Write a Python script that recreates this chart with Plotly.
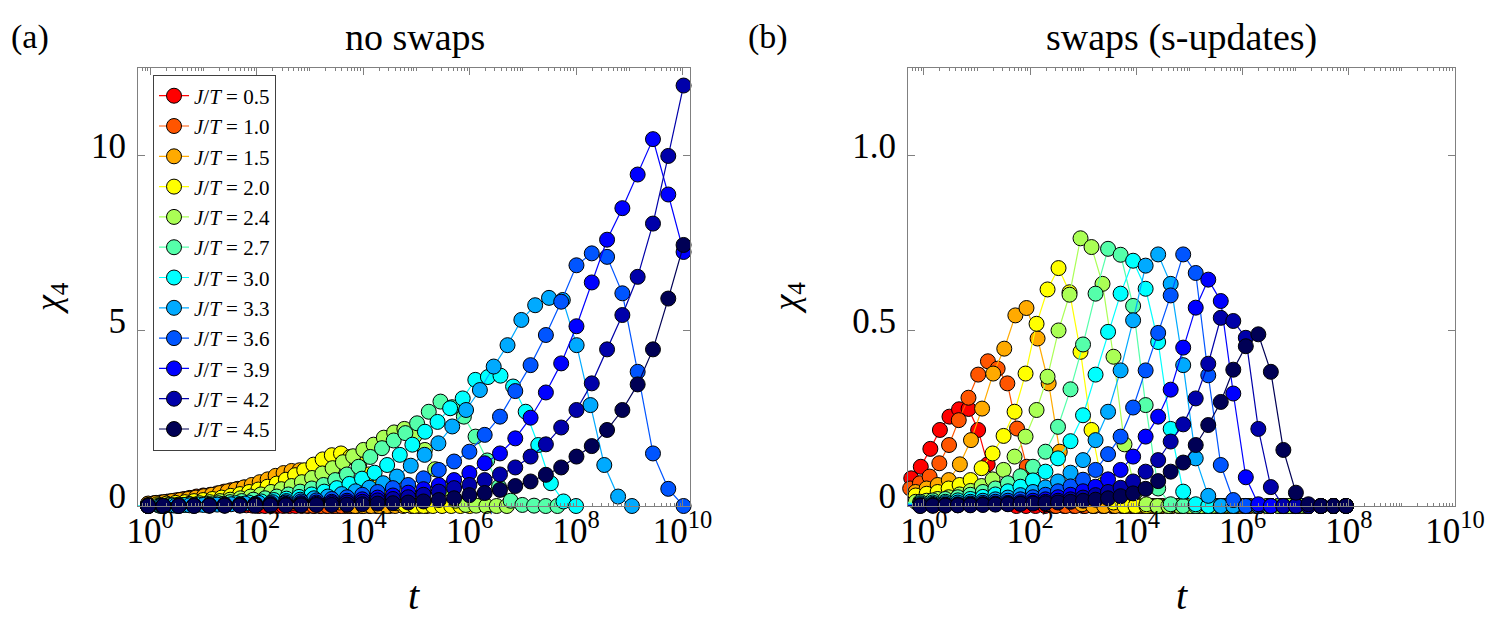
import numpy as np
import plotly.graph_objects as go

# J/T values and jet-like colours
jt_labels = ["0.5", "1.0", "1.5", "2.0", "2.4", "2.7", "3.0", "3.3", "3.6", "3.9", "4.2", "4.5"]
colors = ["#ff0000", "#ff5500", "#ffaa00", "#ffff00", "#aaff55", "#55ffaa",
          "#00ffff", "#00aaff", "#0055ff", "#0000ff", "#0000aa", "#000055"]

# (a) no swaps: log10 of first / last time of each series
nosw_logt_first = [-0.04, -0.04, -0.04, -0.04, -0.04, -0.04, -0.28, -0.04, -0.04, -0.04, -0.04, -0.04]
nosw_logt_last = [4.0, 4.5, 5.2, 6.0, 6.7, 7.65, 8.0, 9.05, 10.02, 10.02, 10.02, 10.02]

nosw_05 = [0.06, 0.08, 0.10, 0.12, 0.14, 0.17, 0.20, 0.23, 0.26, 0.28, 0.29, 0.28, 0.24, 0.17, 0.10, 0.05, 0.02, 0.01,
           0, 0, 0, 0, 0, 0, 0, 0, 0, 0, 0, 0, 0, 0, 0, 0, 0, 0]
nosw_10 = [0.06, 0.08, 0.10, 0.13, 0.16, 0.19, 0.23, 0.27, 0.30, 0.32, 0.36, 0.41, 0.45, 0.49, 0.53, 0.55, 0.56, 0.54,
           0.46, 0.33, 0.20, 0.09, 0.03, 0.01, 0, 0, 0, 0, 0, 0, 0, 0, 0, 0, 0, 0]
nosw_15 = [0.07, 0.09, 0.11, 0.14, 0.17, 0.20, 0.24, 0.28, 0.32, 0.37, 0.42, 0.47, 0.53, 0.60, 0.68, 0.76, 0.86, 0.94,
           1.00, 1.02, 0.95, 0.75, 0.48, 0.25, 0.10, 0.03, 0, 0, 0, 0, 0, 0, 0, 0, 0, 0]
nosw_20 = [0.03, 0.05, 0.07, 0.09, 0.11, 0.14, 0.17, 0.20, 0.24, 0.29, 0.34, 0.40, 0.47, 0.55, 0.64, 0.75, 0.88, 1.02,
           1.18, 1.33, 1.45, 1.50, 1.40, 1.20, 0.90, 0.55, 0.25, 0.08, 0.02, 0, 0, 0, 0, 0, 0, 0]
nosw_24 = [0.01, 0.02, 0.03, 0.04, 0.06, 0.08, 0.11, 0.14, 0.18, 0.22, 0.27, 0.33, 0.40, 0.48, 0.57, 0.68, 0.80, 0.93,
           1.08, 1.25, 1.42, 1.60, 1.75, 1.95, 2.10, 2.20, 2.00, 1.60, 1.05, 0.50, 0.15, 0.03, 0.01, 0, 0, 0]
nosw_27 = [0.00, 0.01, 0.02, 0.03, 0.04, 0.06, 0.08, 0.11, 0.14, 0.18, 0.22, 0.27, 0.33, 0.41, 0.50, 0.60, 0.74, 0.90,
           1.12, 1.40, 1.65, 1.87, 2.08, 2.36, 2.69, 2.98, 2.82, 2.55, 1.98, 1.30, 0.55, 0.15, 0.03, 0.01, 0, 0]
nosw_30 = [0.00, 0.01, 0.01, 0.02, 0.03, 0.04, 0.05, 0.06, 0.08, 0.10, 0.13, 0.17, 0.21, 0.26, 0.33, 0.41, 0.51, 0.63,
           0.78, 0.95, 1.17, 1.46, 1.75, 2.12, 2.40, 2.79, 3.07, 3.60, 3.68, 3.72, 3.41, 2.69, 1.74, 0.65, 0.13, 0.00]
nosw_33 = [0.00, 0.01, 0.01, 0.02, 0.03, 0.04, 0.05, 0.07, 0.09, 0.11, 0.14, 0.18, 0.22, 0.27, 0.34, 0.42, 0.52, 0.65,
           0.84, 1.15, 1.46, 1.79, 2.27, 2.74, 3.31, 3.98, 4.59, 5.31, 5.73, 5.94, 5.88, 4.59, 2.88, 1.17, 0.27, 0.00]
nosw_36 = [0.00, 0.01, 0.01, 0.02, 0.03, 0.04, 0.05, 0.06, 0.08, 0.10, 0.13, 0.16, 0.20, 0.25, 0.32, 0.40, 0.51, 0.60,
           0.79, 1.03, 1.27, 1.55, 2.03, 2.55, 3.28, 4.02, 4.88, 5.83, 6.87, 7.21, 7.11, 6.07, 3.83, 1.50, 0.49, 0.00]
nosw_39 = [0.00, 0.00, 0.01, 0.01, 0.02, 0.02, 0.03, 0.04, 0.05, 0.06, 0.08, 0.10, 0.12, 0.15, 0.19, 0.24, 0.30, 0.38,
           0.48, 0.60, 0.74, 0.94, 1.22, 1.50, 1.93, 2.52, 3.24, 4.07, 5.13, 6.38, 7.60, 8.50, 9.46, 10.47, 8.89, 7.25]
nosw_42 = [0.00, 0.00, 0.01, 0.01, 0.01, 0.01, 0.02, 0.02, 0.03, 0.04, 0.05, 0.06, 0.08, 0.10, 0.12, 0.16, 0.20, 0.25,
           0.32, 0.41, 0.51, 0.60, 0.74, 0.90, 1.10, 1.41, 1.76, 2.24, 2.74, 3.50, 4.47, 5.45, 6.54, 8.06, 9.99, 12.0]
nosw_45 = [0.00, 0.00, 0.00, 0.00, 0.01, 0.01, 0.01, 0.01, 0.02, 0.02, 0.02, 0.03, 0.03, 0.04, 0.05, 0.07, 0.08, 0.10,
           0.13, 0.17, 0.22, 0.31, 0.37, 0.46, 0.57, 0.70, 0.89, 1.10, 1.41, 1.71, 2.17, 2.74, 3.47, 4.47, 5.92, 7.45]

# (b) swaps (s-updates)
sw_logt_first = [-0.24, -0.26, -0.16, -0.157, -0.157, -0.306, -0.306, -0.306, -0.306, -0.306, -0.306, -0.306]
sw_logt_last = [6.06, 6.145, 7.155, 7.088, 7.088, 7.947, 7.947, 7.947, 7.947, 7.947, 7.947, 7.947]

sw_05 = [0.079, 0.112, 0.163, 0.217, 0.255, 0.276, 0.277, 0.217, 0.119, 0.040, 0.008,
         0, 0, 0, 0, 0, 0, 0, 0, 0, 0, 0, 0, 0, 0, 0, 0, 0, 0, 0, 0, 0, 0, 0, 0, 0]
sw_10 = [0.050, 0.065, 0.084, 0.122, 0.174, 0.245, 0.309, 0.375, 0.413, 0.392, 0.350, 0.221, 0.112, 0.030, 0.005,
         0, 0, 0, 0, 0, 0, 0, 0, 0, 0, 0, 0, 0, 0, 0, 0, 0, 0, 0, 0, 0]
sw_15 = [0.040, 0.050, 0.060, 0.074, 0.119, 0.188, 0.278, 0.378, 0.449, 0.544, 0.565, 0.478, 0.350, 0.155, 0.040,
         0.005, 0, 0, 0, 0, 0, 0, 0, 0, 0, 0, 0, 0, 0, 0, 0, 0, 0, 0, 0, 0]
sw_20 = [0.030, 0.035, 0.040, 0.050, 0.060, 0.074, 0.108, 0.150, 0.200, 0.269, 0.378, 0.520, 0.618, 0.679, 0.610,
         0.440, 0.217, 0.060, 0.010, 0, 0, 0, 0, 0, 0, 0, 0, 0, 0, 0, 0, 0, 0, 0, 0, 0]
sw_24 = [0.012, 0.015, 0.020, 0.025, 0.033, 0.043, 0.057, 0.076, 0.103, 0.141, 0.198, 0.274, 0.369, 0.501, 0.603,
         0.764, 0.739, 0.634, 0.426, 0.176, 0.040, 0.005, 0, 0, 0, 0, 0, 0, 0, 0, 0, 0, 0, 0, 0, 0]
sw_27 = [0.010, 0.012, 0.016, 0.020, 0.025, 0.032, 0.040, 0.050, 0.065, 0.085, 0.112, 0.155, 0.226, 0.333, 0.461,
         0.606, 0.734, 0.717, 0.571, 0.288, 0.050, 0.005, 0, 0, 0, 0, 0, 0, 0, 0, 0, 0, 0, 0, 0, 0]
sw_30 = [0.006, 0.008, 0.010, 0.012, 0.016, 0.020, 0.026, 0.033, 0.042, 0.055, 0.073, 0.098, 0.136, 0.185, 0.259,
         0.375, 0.497, 0.606, 0.700, 0.620, 0.468, 0.220, 0.041, 0.005, 0, 0, 0, 0, 0, 0, 0, 0, 0, 0, 0, 0]
sw_33 = [0.004, 0.005, 0.006, 0.008, 0.010, 0.012, 0.015, 0.019, 0.024, 0.031, 0.040, 0.053, 0.070, 0.095, 0.131,
         0.188, 0.269, 0.387, 0.530, 0.686, 0.718, 0.634, 0.402, 0.136, 0.029, 0, 0, 0, 0, 0, 0, 0, 0, 0, 0, 0]
sw_36 = [0.002, 0.002, 0.003, 0.004, 0.005, 0.007, 0.009, 0.012, 0.015, 0.019, 0.025, 0.032, 0.042, 0.056, 0.075,
         0.103, 0.148, 0.198, 0.281, 0.387, 0.494, 0.601, 0.718, 0.665, 0.373, 0.117, 0.017, 0, 0, 0, 0, 0, 0, 0, 0, 0]
sw_39 = [0.001, 0.001, 0.002, 0.002, 0.003, 0.004, 0.005, 0.007, 0.009, 0.011, 0.015, 0.019, 0.025, 0.032, 0.042,
         0.055, 0.076, 0.103, 0.141, 0.198, 0.255, 0.332, 0.452, 0.566, 0.646, 0.585, 0.321, 0.082, 0.005, 0, 0, 0, 0, 0, 0, 0]
sw_42 = [0.000, 0.001, 0.001, 0.002, 0.002, 0.003, 0.004, 0.005, 0.006, 0.007, 0.009, 0.012, 0.015, 0.019, 0.024,
         0.031, 0.040, 0.052, 0.070, 0.098, 0.131, 0.184, 0.233, 0.307, 0.406, 0.537, 0.528, 0.480, 0.220, 0.054, 0, 0, 0, 0, 0, 0]
sw_45 = [0.000, 0.000, 0.001, 0.001, 0.002, 0.002, 0.003, 0.004, 0.005, 0.006, 0.007, 0.008, 0.010, 0.012, 0.015,
         0.018, 0.022, 0.028, 0.036, 0.049, 0.071, 0.098, 0.124, 0.174, 0.231, 0.297, 0.389, 0.456, 0.490, 0.383,
         0.160, 0.038, 0.005, 0, 0, 0]

xtick_vals = [1, 1e2, 1e4, 1e6, 1e8, 1e10]
xtick_text = ["10<sup>0</sup>", "10<sup>2</sup>", "10<sup>4</sup>", "10<sup>6</sup>", "10<sup>8</sup>", "10<sup>10</sup>"]

nosw_series = [nosw_05, nosw_10, nosw_15, nosw_20, nosw_24, nosw_27, nosw_30, nosw_33, nosw_36, nosw_39, nosw_42, nosw_45]
sw_series = [sw_05, sw_10, sw_15, sw_20, sw_24, sw_27, sw_30, sw_33, sw_36, sw_39, sw_42, sw_45]

FONT = "Liberation Serif"
AXC = "#808080"

fig = go.Figure()

for k in range(12):
    t = 10 ** np.linspace(nosw_logt_first[k], nosw_logt_last[k], len(nosw_series[k]))
    fig.add_trace(go.Scatter(
        x=t, y=nosw_series[k], mode="lines+markers",
        name="<i>J</i>/<i>T</i> = " + jt_labels[k],
        line=dict(color=colors[k], width=1.2),
        marker=dict(size=15, color=colors[k], line=dict(color="black", width=1)),
        cliponaxis=False, xaxis="x", yaxis="y"))

for k in range(12):
    t = 10 ** np.linspace(sw_logt_first[k], sw_logt_last[k], len(sw_series[k]))
    fig.add_trace(go.Scatter(
        x=t, y=sw_series[k], mode="lines+markers", showlegend=False,
        line=dict(color=colors[k], width=1.2),
        marker=dict(size=15, color=colors[k], line=dict(color="black", width=1)),
        cliponaxis=False, xaxis="x2", yaxis="y2"))

xcommon = dict(type="log", tickvals=xtick_vals, ticktext=xtick_text,
               ticks="inside", ticklen=7, tickcolor=AXC, showline=True, linecolor=AXC,
               linewidth=1, mirror="ticks", showgrid=False, zeroline=False,
               tickfont=dict(family=FONT, size=35, color="black"), ticklabelstandoff=-6,
               minor=dict(ticks="inside", ticklen=3, tickcolor=AXC, dtick="D1", showgrid=False))
ycommon = dict(ticks="inside", ticklen=7, tickcolor=AXC, showline=True, linecolor=AXC,
               linewidth=1, mirror="ticks", showgrid=False, zeroline=False,
               tickfont=dict(family=FONT, size=35, color="black"), ticklabelstandoff=4,
               ticklabelshift=-10)

fig.update_layout(
    width=1495, height=617,
    margin=dict(l=130, r=48, t=60, b=119),
    paper_bgcolor="white", plot_bgcolor="white",
    font=dict(family=FONT, color="black"),
    xaxis=dict(domain=[0, 0.4191], range=[-0.23, 10.14], anchor="y", **xcommon),
    yaxis=dict(domain=[0, 1], range=[0, 12.5], tickvals=[0, 5, 10], ticktext=["0", "5", "10"],
               anchor="x", **ycommon),
    xaxis2=dict(domain=[0.5847, 1], range=[-0.3, 10.0], anchor="y2", **xcommon),
    yaxis2=dict(domain=[0, 1], range=[0, 1.25], tickvals=[0, 0.5, 1.0], ticktext=["0", "0.5", "1.0"],
                anchor="x2", **ycommon),
    legend=dict(x=0.0114, y=0.985, xanchor="left", yanchor="top", bgcolor="white",
                bordercolor="#404040", borderwidth=1, font=dict(family=FONT, size=21),
                tracegroupgap=0),
    showlegend=True,
)

ann = [
    ("(a)", -0.082, 1.07, 34, 0),
    ("no swaps", 0.2103, 1.07, 38, 0),
    ("(b)", 0.4784, 1.07, 34, 0),
    ("swaps (s-updates)", 0.7925, 1.07, 38, 0),
    ("<i>χ</i><sub>4</sub>", -0.066, 0.475, 36, -90),
    ("<i>χ</i><sub>4</sub>", 0.494, 0.475, 36, -90),
    ("<i>t</i>", 0.2096, -0.205, 40, 0),
    ("<i>t</i>", 0.7927, -0.205, 40, 0),
]
for txt, x, y, size, ang in ann:
    fig.add_annotation(text=txt, x=x, y=y, xref="paper", yref="paper", showarrow=False,
                       xanchor="center", yanchor="middle", textangle=ang,
                       font=dict(family=FONT, size=size, color="black"))

fig.write_html("out.html")
